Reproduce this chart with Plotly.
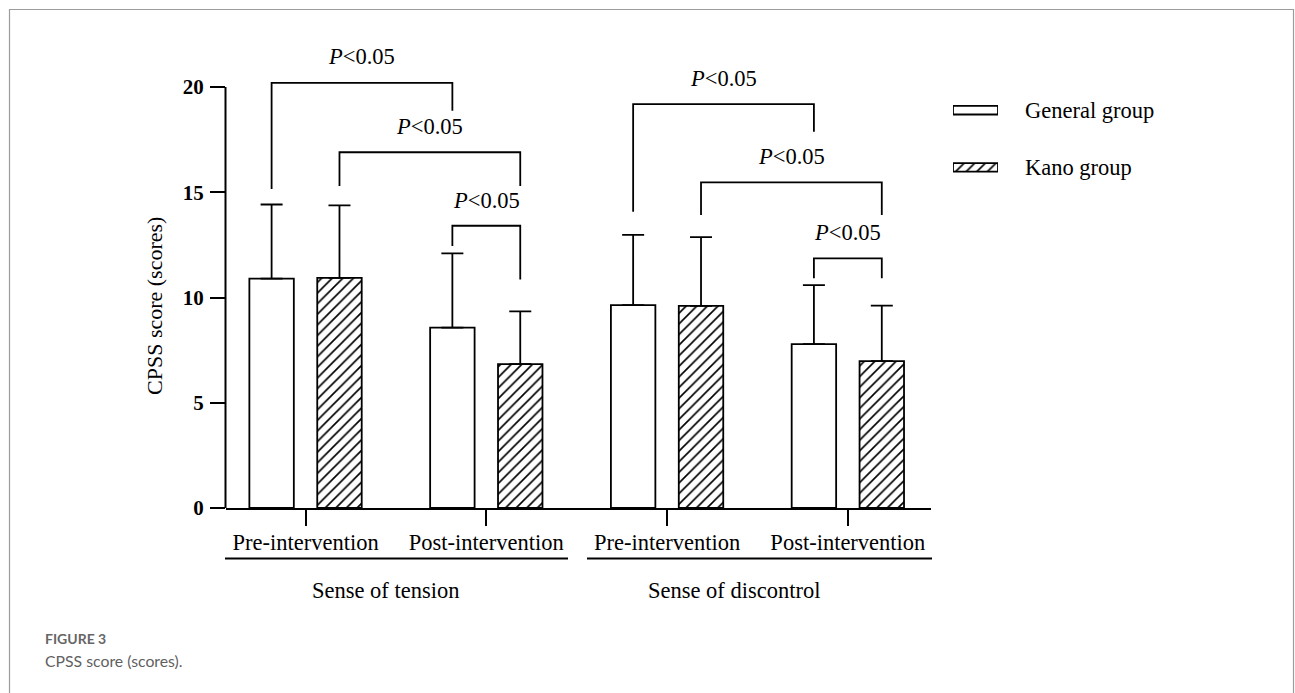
import plotly.graph_objects as go

W, H = 1295, 693

# ---------------- data ----------------
categories = ["Pre-intervention", "Post-intervention", "Pre-intervention", "Post-intervention"]
groups = ["Sense of tension", "Sense of discontrol"]
series_names = ["General group", "Kano group"]
general_mean = [10.90, 8.57, 9.64, 7.79]
general_sd = [3.52, 3.53, 3.34, 2.80]
kano_mean = [10.93, 6.84, 9.60, 6.98]
kano_sd = [3.45, 2.50, 3.27, 2.63]
y_ticks = [0, 5, 10, 15, 20]
sig_label = "<i>P</i>&lt;0.05"
# (left category, left series, right category, right series, top, left leg end, right leg end, label y)
brackets = [
    (0, 0, 1, 0, 20.20, 15.15, 18.87, 21.44),
    (0, 1, 1, 1, 16.90, 15.30, 15.30, 18.11),
    (1, 0, 1, 1, 13.41, 12.45, 10.86, 14.63),
    (2, 0, 3, 0, 19.19, 14.08, 17.88, 20.41),
    (2, 1, 3, 1, 15.47, 13.92, 13.92, 16.69),
    (3, 0, 3, 1, 11.86, 10.91, 10.91, 13.08),
]

# ---------------- layout constants ----------------
SERIF = "Liberation Serif"
BARGAP = 0.249
BARGROUPGAP = 0.345
X_RANGE = [-0.44, 3.46]
Y_RANGE = [0, 22.5]
x_pos = list(range(len(categories)))
half_slot = (1 - BARGAP) / 4.0


def px(x):
    return x / W


def py(y):
    return 1 - y / H


fig = go.Figure()

fig.add_trace(go.Bar(
    x=x_pos, y=general_mean, name=series_names[0],
    marker=dict(color="white", line=dict(color="black", width=1.8)),
    error_y=dict(type="data", symmetric=False, array=general_sd,
                 arrayminus=[0] * len(general_sd), color="black",
                 thickness=1.8, width=11),
    showlegend=False,
))
fig.add_trace(go.Bar(
    x=x_pos, y=kano_mean, name=series_names[1],
    marker=dict(color="white", line=dict(color="black", width=1.8),
                pattern=dict(shape="/", fgcolor="black", bgcolor="white",
                             size=7.5, solidity=0.22)),
    error_y=dict(type="data", symmetric=False, array=kano_sd,
                 arrayminus=[0] * len(kano_sd), color="black",
                 thickness=1.8, width=11),
    showlegend=False,
))

# significance brackets
annotations = []
for (c0, s0, c1, s1, top, l_end, r_end, ly) in brackets:
    x0 = c0 + (2 * s0 - 1) * half_slot
    x1 = c1 + (2 * s1 - 1) * half_slot
    fig.add_trace(go.Scatter(
        x=[x0, x0, x1, x1], y=[l_end, top, top, r_end], mode="lines",
        line=dict(color="black", width=1.8), showlegend=False, hoverinfo="skip",
        cliponaxis=False,
    ))
    annotations.append(dict(
        x=(x0 + x1) / 2, y=ly, xref="x", yref="y", text=sig_label,
        showarrow=False, font=dict(family=SERIF, size=22.5, color="black"),
        xanchor="center", yanchor="middle",
    ))

# legend swatches as small horizontal bars
fig.add_trace(go.Bar(
    x=[1], y=[1], orientation="h", width=0.15, xaxis="x2", yaxis="y2",
    marker=dict(color="white", line=dict(color="black", width=1.8)),
    showlegend=False, hoverinfo="skip",
))
fig.add_trace(go.Bar(
    x=[1], y=[0], orientation="h", width=0.15, xaxis="x2", yaxis="y2",
    marker=dict(color="white", line=dict(color="black", width=1.8),
                pattern=dict(shape="/", fgcolor="black", bgcolor="white",
                             size=7.5, solidity=0.22)),
    showlegend=False, hoverinfo="skip",
))
for name, yc in zip(series_names, [110.2, 167.4]):
    annotations.append(dict(
        x=px(1023), y=py(yc), xref="paper", yref="paper", text=name,
        showarrow=False, xanchor="left", yanchor="middle",
        font=dict(family=SERIF, size=22.5, color="black"),
    ))

# group labels
for g, xc in zip(groups, [385, 734]):
    annotations.append(dict(
        x=px(xc), y=py(590), xref="paper", yref="paper", text=g,
        showarrow=False, xanchor="center", yanchor="middle",
        font=dict(family=SERIF, size=22.5, color="black"),
    ))

# y axis title
annotations.append(dict(
    x=px(155), y=py(306), xref="paper", yref="paper", text="CPSS score (scores)",
    showarrow=False, textangle=-90, xanchor="center", yanchor="middle",
    font=dict(family=SERIF, size=22, color="black"),
))

# caption
annotations.append(dict(
    x=px(43), y=py(638), xref="paper", yref="paper", text="<b>FIGURE 3</b>",
    showarrow=False, xanchor="left", yanchor="middle",
    font=dict(family="Lato", size=14, color="#666666"),
))
annotations.append(dict(
    x=px(43), y=py(660), xref="paper", yref="paper", text="CPSS score (scores).",
    showarrow=False, xanchor="left", yanchor="middle",
    font=dict(family="Lato", size=15.8, color="#5f5f5f"),
))

shapes = [
    # y axis line from 0 to 20
    dict(type="line", xref="paper", yref="y", x0=px(225.5), x1=px(225.5),
         y0=y_ticks[0], y1=y_ticks[-1], line=dict(color="black", width=2)),
    # group underlines
    dict(type="line", xref="paper", yref="paper", x0=px(225), x1=px(568),
         y0=py(558.5), y1=py(558.5), line=dict(color="black", width=2)),
    dict(type="line", xref="paper", yref="paper", x0=px(587), x1=px(932),
         y0=py(558.5), y1=py(558.5), line=dict(color="black", width=2)),
    # frame
    dict(type="rect", xref="paper", yref="paper", x0=px(9.5), x1=px(1293.5),
         y0=-0.2, y1=py(9.5), line=dict(color="#9c9c9c", width=1.2)),
]

fig.update_layout(
    width=W, height=H,
    margin=dict(l=0, r=0, t=0, b=0),
    paper_bgcolor="white", plot_bgcolor="white",
    template="none",
    barmode="group", bargap=BARGAP, bargroupgap=BARGROUPGAP,
    showlegend=False,
    annotations=annotations,
    shapes=shapes,
    xaxis=dict(
        domain=[px(226), px(931)], range=X_RANGE, anchor="y",
        tickmode="array", tickvals=x_pos, ticktext=categories,
        ticks="outside", ticklen=16, tickwidth=2, tickcolor="black",
        showline=True, linecolor="black", linewidth=2,
        showgrid=False, zeroline=False, automargin=False,
        tickfont=dict(family=SERIF, size=22.5, color="black"),
        ticklabelstandoff=-3,
    ),
    yaxis=dict(
        domain=[py(508), py(34.4)], range=Y_RANGE, anchor="x",
        tickmode="array", tickvals=y_ticks,
        ticks="outside", ticklen=15, tickwidth=2, tickcolor="black",
        showline=False, showgrid=False, zeroline=False, automargin=False,
        tickfont=dict(family=SERIF, size=21, color="black", weight="bold"),
        ticklabelstandoff=2,
    ),
    xaxis2=dict(domain=[px(953), px(998)], range=[0, 1], anchor="y2",
                visible=False, fixedrange=True),
    yaxis2=dict(domain=[py(178), py(100)], range=[-0.185, 1.178], anchor="x2",
                visible=False, fixedrange=True),
)

fig.write_html("out.html")
